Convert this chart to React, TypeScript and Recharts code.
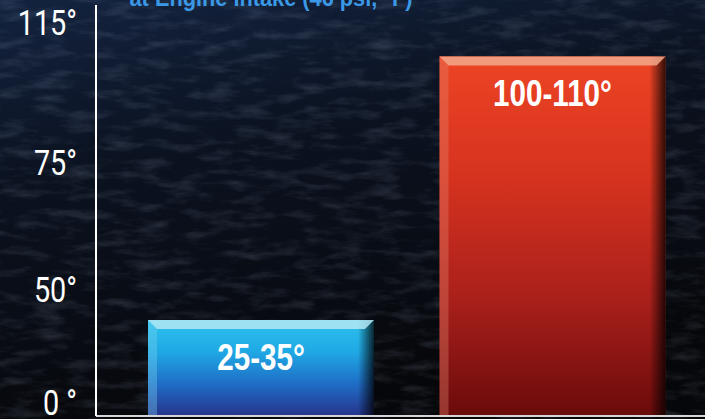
import { BarChart, Bar, XAxis, YAxis, LabelList } from "recharts";

// 値は画像から読み取り（バー上端の位置から推定）
const categories = ["Ambient", "Engine Intake"];
const values = [28, 105];
const rangeLabels = ["25-35°", "100-110°"];
const yTickValues = [4, 37, 74, 115];
const yTickLabels = ["0 °", "50°", "75°", "115°"];

const data = categories.map((name, i) => ({
  name,
  value: values[i],
  label: rangeLabels[i],
}));

// 細長いフォントが無いので横方向に縮めて代用
const SANS = '"Liberation Sans", Arial, sans-serif';
const TICK_FONT = 'Roboto, "Liberation Sans", sans-serif';

const barStyles = [
  {
    stops: ["#2dc2ee", "#1fa8e4", "#1f6dc6", "#27338b"],
    bevelTop: "#b3e7f5",
    bevelLeft: "#7fd6f2",
  },
  {
    stops: ["#ec4424", "#d6331f", "#ab201b", "#6a0b0b"],
    bevelTop: "#f3a98c",
    bevelLeft: "#e58a72",
  },
];

function BevelBar(props: any) {
  const { x, y, width, height, index } = props;
  const s = barStyles[index] ?? barStyles[0];
  const gid = `bar-grad-${index}`;
  const b = 9;
  return (
    <g>
      <defs>
        <linearGradient id={gid} x1="0" y1="0" x2="0" y2="1">
          {s.stops.map((c, i) => (
            <stop key={i} offset={i / (s.stops.length - 1)} stopColor={c} />
          ))}
        </linearGradient>
        <linearGradient id={`${gid}-r`} x1="0" y1="0" x2="1" y2="0">
          <stop offset="0" stopColor="#000" stopOpacity={0} />
          <stop offset="1" stopColor="#000" stopOpacity={0.8} />
        </linearGradient>
      </defs>
      <rect x={x} y={y} width={width} height={height} fill={`url(#${gid})`} />
      <polygon
        points={`${x},${y} ${x + b},${y + b} ${x + b},${y + height} ${x},${y + height}`}
        fill={s.bevelLeft}
        opacity={0.35}
      />
      <rect
        x={x + width - 16}
        y={y}
        width={16}
        height={height}
        fill={`url(#${gid}-r)`}
      />
      <polygon
        points={`${x},${y} ${x + width},${y} ${x + width - b},${y + b} ${x + b},${y + b}`}
        fill={s.bevelTop}
        opacity={0.85}
      />
    </g>
  );
}

function RangeLabel(props: any) {
  const { x, y, width, value } = props;
  return (
    <text
      transform={`translate(${x + width / 2},${y + 37}) scale(0.8,1)`}
      textAnchor="middle"
      dominantBaseline="central"
      fill="#ffffff"
      fontFamily={SANS}
      fontWeight="bold"
      fontSize={37}
    >
      {value}
    </text>
  );
}

function YTick(props: any) {
  const { x, y, payload } = props;
  const label = yTickLabels[yTickValues.indexOf(payload.value)] ?? "";
  return (
    <text
      transform={`translate(${x},${y}) scale(0.8,1)`}
      textAnchor="end"
      dy="0.355em"
      fill="#ffffff"
      fontFamily={TICK_FONT}
      fontWeight={400}
      fontSize={36}
      style={{ whiteSpace: "pre" }}
    >
      {label}
    </text>
  );
}

function Background() {
  return (
    <svg
      width={705}
      height={419}
      style={{ position: "absolute", left: 0, top: 0 }}
    >
      <defs>
        <linearGradient id="bg" x1="0" y1="0" x2="0.3" y2="1">
          <stop offset="0" stopColor="#13233f" />
          <stop offset="0.4" stopColor="#0b1220" />
          <stop offset="1" stopColor="#06070a" />
        </linearGradient>
        <filter id="grain" x="0" y="0" width="100%" height="100%">
          <feTurbulence
            type="fractalNoise"
            baseFrequency="0.03 0.1"
            numOctaves={4}
            seed={11}
          />
          <feColorMatrix
            type="matrix"
            values="0 0 0 0 0.4  0 0 0 0 0.48  0 0 0 0 0.65  1.6 0 0 0 -0.72"
          />
        </filter>
      </defs>
      <rect width={705} height={419} fill="url(#bg)" />
      <rect width={705} height={419} filter="url(#grain)" opacity={0.24} />
      <text
        x={271}
        y={6}
        textAnchor="middle"
        fill="#3b98e6"
        fontFamily={SANS}
        fontWeight="bold"
        fontSize={23}
        textLength={283}
        lengthAdjust="spacingAndGlyphs"
      >
        at Engine Intake (46 psi, °F)
      </text>
    </svg>
  );
}

export default function App() {
  return (
    <div
      style={{
        position: "fixed",
        left: 0,
        top: 0,
        width: 705,
        height: 419,
        overflow: "hidden",
      }}
    >
      <Background />
      <div style={{ position: "absolute", left: 0, top: 0 }}>
        <BarChart
          width={705}
          height={419}
          data={data}
          margin={{ top: 5, right: 0, bottom: 2, left: 0 }}
        >
          <XAxis
            dataKey="name"
            tick={false}
            tickLine={false}
            height={1}
            padding={{ left: 19, right: 7 }}
            axisLine={{ stroke: "#d6d6d6", strokeWidth: 2 }}
          />
          <YAxis
            domain={[0, 120]}
            ticks={yTickValues}
            interval={0}
            width={96}
            tickLine={false}
            tickSize={0}
            tickMargin={19}
            tick={<YTick />}
            axisLine={{ stroke: "#ffffff", strokeWidth: 2 }}
          />
          <Bar
            dataKey="value"
            barSize={226}
            shape={<BevelBar />}
            isAnimationActive={false}
          >
            <LabelList dataKey="label" content={<RangeLabel />} />
          </Bar>
        </BarChart>
      </div>
    </div>
  );
}
